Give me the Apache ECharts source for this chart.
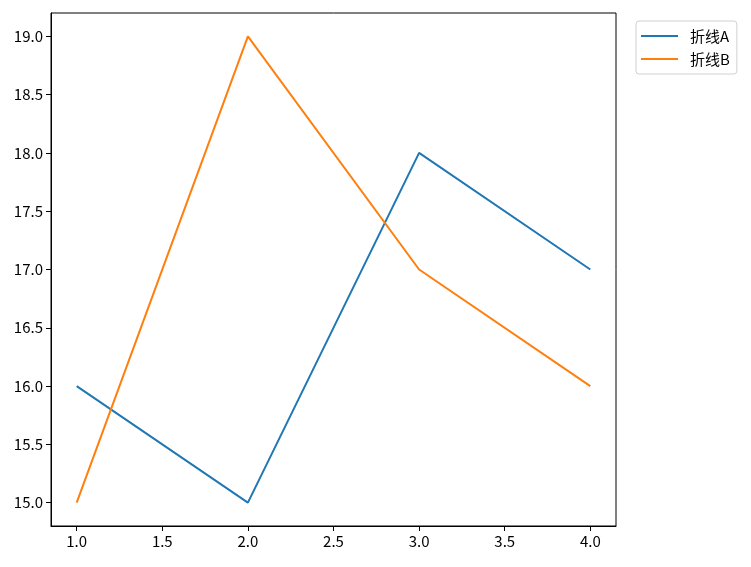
<!DOCTYPE html>
<html><head><meta charset="utf-8">
<script src="https://cdn.jsdelivr.net/npm/echarts@6/dist/echarts.min.js"></script>
<style>html,body{margin:0;padding:0;background:#fff}#c{width:751px;height:567px}</style>
</head><body><div id="c"></div>
<script>
const xValues = [1, 2, 3, 4];
const seriesA = [16, 15, 18, 17];
const seriesB = [15, 19, 17, 16];
const seriesNames = ['折线A', '折线B'];
const xTicks = [1.0, 1.5, 2.0, 2.5, 3.0, 3.5, 4.0];
const yTicks = [15.0, 15.5, 16.0, 16.5, 17.0, 17.5, 18.0, 18.5, 19.0];
const font = '"Noto Sans CJK SC", "DejaVu Sans", sans-serif';
const chart = echarts.init(document.getElementById('c'));
chart.setOption({
  animation: false,
  grid: {left: 51, right: 135, top: 13, bottom: 41, show: true, borderColor: '#000', borderWidth: 1, backgroundColor: 'transparent'},
  legend: {
    orient: 'vertical', left: 636, top: 21, itemWidth: 37, itemHeight: 2, itemGap: 3,
    icon: 'rect', padding: [5, 7, 5, 5], borderColor: '#d0d0d0', borderWidth: 1, borderRadius: 3,
    textStyle: {fontFamily: font, fontSize: 15, color: '#000', padding: [0, 0, 0, 7], lineHeight: 20},
    data: seriesNames
  },
  xAxis: {
    type: 'value', min: 0.85, max: 4.15,
    splitLine: {show: false},
    axisLine: {show: true, onZero: false, lineStyle: {color: '#000', width: 1}},
    axisTick: {show: true, length: 5, customValues: xTicks, lineStyle: {color: '#000'}},
    axisLabel: {customValues: xTicks, formatter: v => v.toFixed(1), fontFamily: font, fontSize: 15, color: '#000', margin: 8}
  },
  yAxis: {
    type: 'value', min: 14.8, max: 19.2,
    splitLine: {show: false},
    axisLine: {show: true, onZero: false, lineStyle: {color: '#000', width: 1}},
    axisTick: {show: true, length: 5, customValues: yTicks, lineStyle: {color: '#000'}},
    axisLabel: {customValues: yTicks, formatter: v => v.toFixed(1), fontFamily: font, fontSize: 15, color: '#000', margin: 8}
  },
  series: [
    {name: seriesNames[0], type: 'line', data: xValues.map((x, i) => [x, seriesA[i]]), showSymbol: false, symbol: 'none', lineStyle: {color: '#1f77b4', width: 2}, itemStyle: {color: '#1f77b4'}},
    {name: seriesNames[1], type: 'line', data: xValues.map((x, i) => [x, seriesB[i]]), showSymbol: false, symbol: 'none', lineStyle: {color: '#ff7f0e', width: 2}, itemStyle: {color: '#ff7f0e'}}
  ]
});
</script></body></html>
